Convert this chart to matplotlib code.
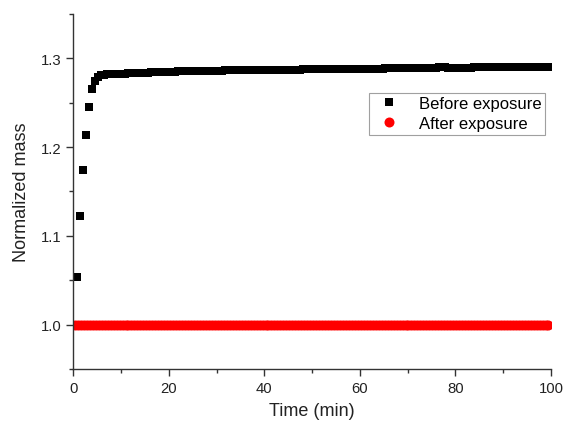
import numpy as np
import matplotlib
matplotlib.use("Agg")
import matplotlib.pyplot as plt
from matplotlib.ticker import MultipleLocator

plt.rcParams['font.family'] = ['Liberation Sans', 'DejaVu Sans']

# sampling times (min)
time_before = np.linspace(0.8, 99.5, 160)
time_after = np.linspace(0.3, 99.5, 160)

# normalized mass
mass_before = [
    1.054, 1.122, 1.174, 1.214, 1.245, 1.265, 1.275, 1.279, 1.281, 1.2815,
    1.2820, 1.2822, 1.2823, 1.2825, 1.2826, 1.2828, 1.2829, 1.2830, 1.2832, 1.2833,
    1.2834, 1.2836, 1.2837, 1.2838, 1.2840, 1.2841, 1.2842, 1.2843, 1.2845, 1.2846,
    1.2847, 1.2848, 1.2850, 1.2851, 1.2852, 1.2853, 1.2853, 1.2854, 1.2855, 1.2856,
    1.2856, 1.2857, 1.2858, 1.2858, 1.2859, 1.2860, 1.2860, 1.2861, 1.2862, 1.2862,
    1.2863, 1.2863, 1.2864, 1.2864, 1.2865, 1.2865, 1.2866, 1.2866, 1.2867, 1.2867,
    1.2868, 1.2868, 1.2869, 1.2869, 1.2870, 1.2870, 1.2870, 1.2871, 1.2871, 1.2872,
    1.2872, 1.2873, 1.2873, 1.2873, 1.2874, 1.2874, 1.2875, 1.2875, 1.2875, 1.2876,
    1.2876, 1.2877, 1.2877, 1.2877, 1.2878, 1.2878, 1.2879, 1.2879, 1.2879, 1.2880,
    1.2880, 1.2881, 1.2881, 1.2881, 1.2882, 1.2882, 1.2883, 1.2883, 1.2883, 1.2884,
    1.2884, 1.2885, 1.2885, 1.2885, 1.2886, 1.2886, 1.2887, 1.2887, 1.2887, 1.2888,
    1.2888, 1.2889, 1.2889, 1.2890, 1.2890, 1.2891, 1.2892, 1.2893, 1.2894, 1.2895,
    1.2896, 1.2896, 1.2897, 1.2897, 1.2897, 1.2896, 1.2896, 1.2895, 1.2895, 1.2895,
    1.2895, 1.2896, 1.2896, 1.2896, 1.2897, 1.2897, 1.2897, 1.2898, 1.2898, 1.2898,
    1.2898, 1.2899, 1.2899, 1.2899, 1.2899, 1.2900, 1.2900, 1.2900, 1.2900, 1.2900,
    1.2900, 1.2901, 1.2901, 1.2901, 1.2900, 1.2900, 1.2900, 1.2900, 1.2900, 1.2900,
]

mass_after = [
    1.0000, 0.9999, 0.9999, 1.0000, 1.0000, 0.9999, 0.9999, 1.0000, 1.0000, 1.0000,
    0.9999, 1.0000, 1.0000, 1.0001, 1.0000, 1.0000, 1.0000, 1.0001, 1.0001, 1.0000,
    1.0001, 1.0001, 1.0001, 1.0000, 1.0001, 1.0001, 1.0000, 1.0000, 1.0000, 1.0000,
    1.0000, 0.9999, 0.9999, 0.9999, 0.9999, 0.9999, 0.9999, 0.9999, 0.9999, 1.0000,
    1.0000, 1.0000, 1.0000, 1.0000, 0.9999, 1.0000, 1.0000, 1.0000, 1.0000, 1.0000,
    1.0000, 1.0000, 1.0000, 0.9999, 1.0000, 1.0000, 1.0000, 1.0000, 1.0000, 1.0000,
    0.9999, 1.0000, 1.0000, 1.0000, 1.0000, 0.9999, 1.0000, 1.0000, 1.0000, 1.0000,
    1.0000, 1.0000, 1.0000, 1.0000, 0.9999, 1.0000, 1.0000, 1.0000, 1.0000, 1.0000,
    1.0000, 0.9999, 1.0000, 1.0000, 1.0000, 1.0000, 1.0000, 1.0000, 1.0000, 1.0000,
    1.0000, 1.0000, 0.9999, 1.0000, 1.0000, 1.0000, 1.0000, 1.0000, 1.0000, 1.0000,
    1.0000, 1.0000, 1.0000, 1.0001, 1.0000, 1.0000, 1.0000, 1.0000, 1.0000, 1.0000,
    1.0000, 1.0000, 1.0000, 1.0000, 1.0000, 0.9999, 1.0000, 1.0000, 1.0000, 1.0000,
    1.0000, 1.0000, 1.0000, 1.0000, 0.9999, 1.0000, 1.0000, 1.0000, 1.0000, 1.0000,
    1.0000, 1.0000, 1.0000, 1.0000, 1.0000, 1.0000, 0.9999, 1.0000, 1.0000, 1.0000,
    1.0000, 1.0000, 1.0000, 1.0000, 1.0000, 1.0000, 1.0000, 1.0000, 1.0000, 1.0000,
    1.0000, 1.0000, 1.0000, 1.0000, 0.9999, 1.0000, 1.0000, 1.0000, 1.0000, 1.0000,
]

fig = plt.figure(figsize=(5.65, 4.27), dpi=100)
ax = fig.add_axes([0.130, 0.1335, 0.845, 0.8315])

ax.plot(time_before, mass_before, 's', color='black', markersize=5.5,
        markeredgewidth=0, label='Before exposure')
ax.plot(time_after, mass_after, 'o', color='#ff0000', markersize=7.2,
        markeredgewidth=0, label='After exposure')

ax.set_xlim(0, 100)
ax.set_ylim(0.95, 1.35)
ax.xaxis.set_major_locator(MultipleLocator(20))
ax.xaxis.set_minor_locator(MultipleLocator(10))
ax.yaxis.set_major_locator(MultipleLocator(0.1))
ax.yaxis.set_minor_locator(MultipleLocator(0.05))
ax.yaxis.set_major_formatter(matplotlib.ticker.FormatStrFormatter('%.1f'))

for side in ['top', 'right']:
    ax.spines[side].set_visible(False)
for side in ['left', 'bottom']:
    ax.spines[side].set_color('#333333')
    ax.spines[side].set_linewidth(1.0)

ax.tick_params(which='major', direction='out', length=5, width=1,
               color='#333333', labelsize=10.7, labelcolor='#222222')
ax.tick_params(which='minor', direction='out', length=3, width=1, color='#333333')

ax.set_xlabel('Time (min)', fontsize=13, color='#222222', labelpad=5)
ax.set_ylabel('Normalized mass', fontsize=13, color='#222222', labelpad=8)

leg = ax.legend(loc='upper right', bbox_to_anchor=(0.965, 0.780),
                bbox_transform=fig.transFigure, borderaxespad=0,
                fontsize=12, frameon=True, fancybox=False,
                edgecolor='#888888', handletextpad=0.8, handlelength=2.0,
                borderpad=0.2, labelspacing=0.3)
leg.get_frame().set_linewidth(0.8)

fig.savefig('out.png', dpi=100)
